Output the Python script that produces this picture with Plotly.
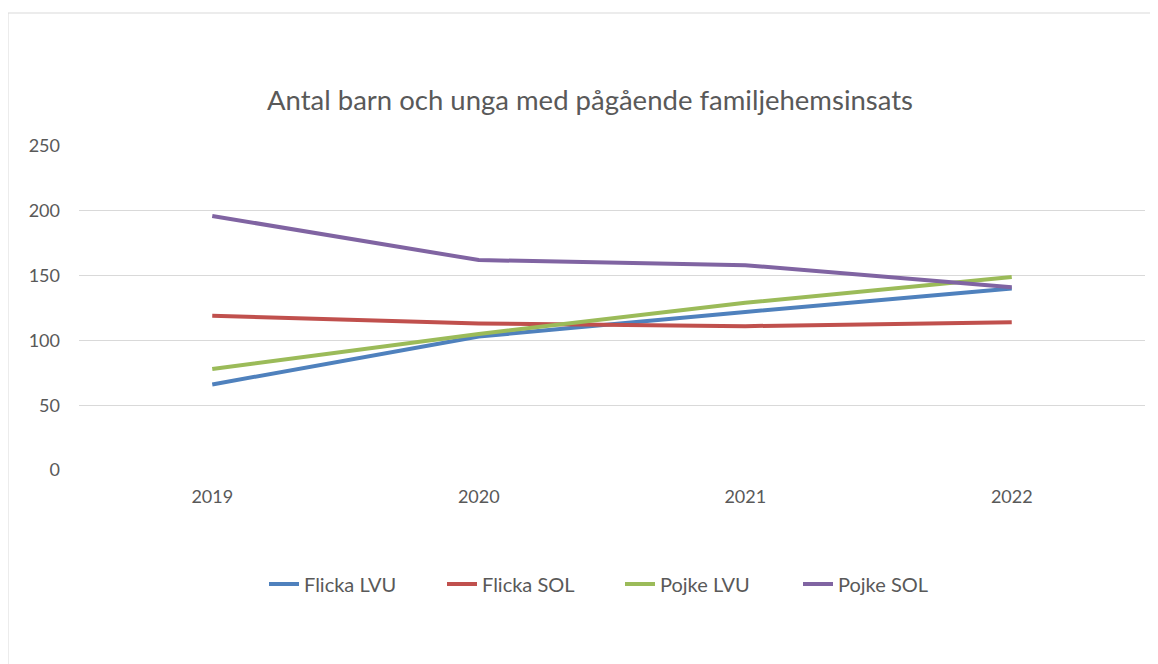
import plotly.graph_objects as go

years = ["2019", "2020", "2021", "2022"]
flicka_lvu = [66, 103, 122, 140]
flicka_sol = [119, 113, 111, 114]
pojke_lvu = [78, 105, 129, 149]
pojke_sol = [196, 162, 158, 141]

series = [
    ("Flicka LVU", flicka_lvu, "#4F81BD"),
    ("Flicka SOL", flicka_sol, "#C0504D"),
    ("Pojke LVU", pojke_lvu, "#9BBB59"),
    ("Pojke SOL", pojke_sol, "#8064A2"),
]

fig = go.Figure()
for name, vals, col in series:
    fig.add_trace(go.Scatter(x=years, y=vals, name=name, mode="lines",
                             line=dict(color=col, width=4)))

# page body has an 8px margin; work in reference coords and shift
OFF = 8
W, H = 1158 - OFF, 664 - OFF
PL, PR, PT, PB = 79, 1145, 146, 470   # plot area in reference pixels
L = PL - OFF
R = W - (PR - OFF)
T = PT - OFF
B = H - (PB - OFF)
pw = PR - PL
ph = PB - PT

def px(x):
    return (x - PL) / pw

def py(y):
    return (PB - y) / ph

font = "Lato, Open Sans, sans-serif"
fig.update_layout(
    width=W, height=H,
    margin=dict(l=L, r=R, t=T, b=B),
    paper_bgcolor="white", plot_bgcolor="white",
    font=dict(family=font, color="#595959", size=18),
    title=dict(text="Antal barn och unga med pågående familjehemsinsats",
               x=(590 - OFF) / W, xanchor="center",
               y=1 - (100 - OFF) / H, yanchor="middle", yref="container",
               font=dict(size=27.5, color="#595959", family=font)),
    xaxis=dict(type="category", range=[-0.5, 3.5], showgrid=False,
               showline=False, zeroline=False, ticks="",
               ticklabelstandoff=14,
               tickfont=dict(size=18, color="#595959")),
    yaxis=dict(range=[0, 250], dtick=50, showgrid=True, gridcolor="#d9d9d9",
               gridwidth=1, zeroline=False, showline=False, ticks="",
               ticklabelstandoff=18,
               tickfont=dict(size=18, color="#595959")),
    legend=dict(orientation="h", x=px(620), xanchor="center",
                y=py(584), yanchor="middle",
                font=dict(size=20, color="#595959"),
                entrywidth=133, entrywidthmode="pixels",
                traceorder="normal"),
    showlegend=True,
    shapes=[dict(type="rect", xref="paper", yref="paper",
                 x0=px(8), x1=px(1180), y0=py(13), y1=py(700),
                 line=dict(color="#d9d9d9", width=1), fillcolor="rgba(0,0,0,0)",
                 layer="below")],
)

fig.write_html("out.html")
